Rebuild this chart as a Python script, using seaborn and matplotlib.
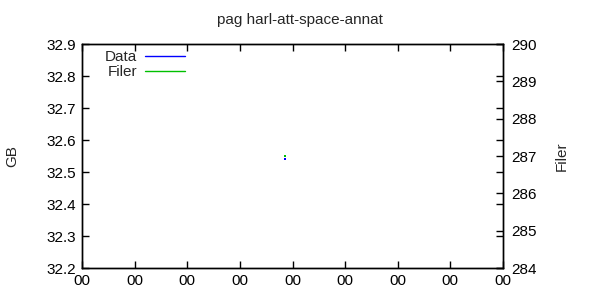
import matplotlib
matplotlib.use("Agg")
import matplotlib.pyplot as plt
import seaborn as sns
import pandas as pd
from matplotlib.lines import Line2D

# Data
x_ticks = [0, 1, 2, 3, 4, 5, 6, 7, 8]
x_tick_labels = ["00"] * 9
time_pos = [3.86]
data_gb = [32.54]
filer_count = [287.0]
left_ticks = [32.2, 32.3, 32.4, 32.5, 32.6, 32.7, 32.8, 32.9]
right_ticks = [284, 285, 286, 287, 288, 289, 290]
title = "pag harl-att-space-annat"

sns.set_style("white")
plt.rcParams['font.family'] = ['Liberation Sans', 'DejaVu Sans']
plt.rcParams['font.size'] = 10

fig = plt.figure(figsize=(6, 3), dpi=100)
ax = fig.add_axes([82/600, 1-268/300, (503-82)/600, (268-44)/300])
ax2 = ax.twinx()

df1 = pd.DataFrame({"t": time_pos, "v": data_gb})
df2 = pd.DataFrame({"t": time_pos, "v": filer_count})
sns.scatterplot(data=df1, x="t", y="v", ax=ax, color="#0000ff", marker="s", s=2, linewidth=0, legend=False)
sns.scatterplot(data=df2, x="t", y="v", ax=ax2, color="#00c000", marker="s", s=2, linewidth=0, legend=False)

ax.set_xlim(0, 8)
ax.set_ylim(32.2, 32.9)
ax2.set_ylim(284, 290)
ax.set_xticks(x_ticks)
ax.set_xticklabels(x_tick_labels)
ax.set_yticks(left_ticks)
ax.set_yticklabels([f"{v:.1f}" for v in left_ticks])
ax2.set_yticks(right_ticks)
ax.set_xlabel("")
ax.set_ylabel("GB", labelpad=20)
ax2.set_ylabel("Filer", labelpad=13)
ax2.set_xlabel("")

for a in (ax, ax2):
    for s in a.spines.values():
        s.set_color("black")
        s.set_linewidth(1)
ax.tick_params(axis="both", direction="in", length=5, width=1, top=True, right=True, left=True, bottom=True, labelsize=11, pad=4, colors="black")
ax2.tick_params(axis="y", direction="in", length=5, width=1, right=True, left=False, labelsize=11, pad=6, colors="black")
ax.yaxis.label.set_size(11)
ax2.yaxis.label.set_size(11)

handles = [Line2D([], [], color="#0000ff", lw=1), Line2D([], [], color="#00c000", lw=1)]
leg = ax.legend(handles, ["Data", "Filer"], loc="upper left", bbox_to_anchor=(0.0295, 1.02), frameon=False, markerfirst=False,
                fontsize=11, handlelength=2.6, handletextpad=0.5, labelspacing=0.05, borderaxespad=0.3)

fig.text(0.5, 1-20/300, title, ha="center", va="center", fontsize=11)
fig.savefig("out.png", dpi=100)
